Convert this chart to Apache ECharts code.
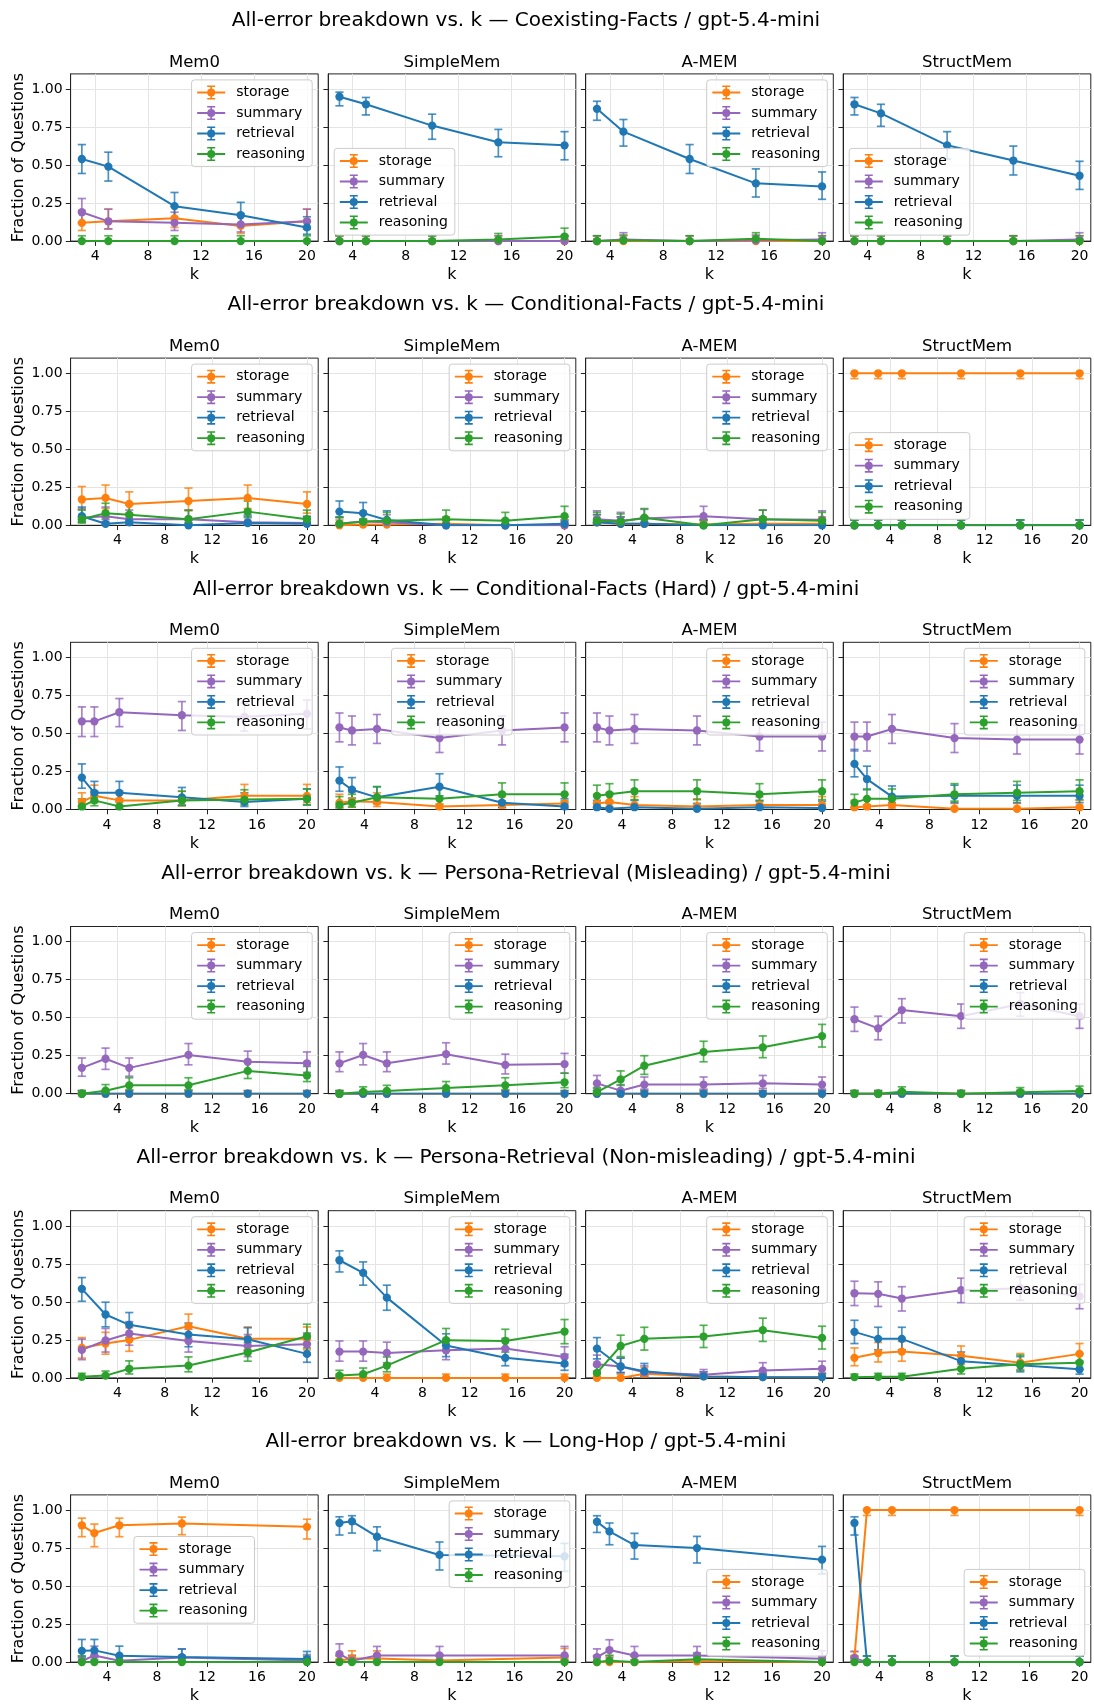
<!DOCTYPE html>
<html><head><meta charset="utf-8">
<script src="https://cdn.jsdelivr.net/npm/echarts@6/dist/echarts.min.js"></script>
<style>html,body{margin:0;padding:0;background:#fff}#chart{width:1094px;height:1704px}</style>
</head><body><div id="chart"></div>
<script>
// ---------- categories / labels ----------
const categories = ['storage', 'summary', 'retrieval', 'reasoning'];
const colors = ['#ff7f0e', '#9467bd', '#1f77b4', '#2ca02c'];
const methods = ['Mem0', 'SimpleMem', 'A-MEM', 'StructMem'];
const datasets = ['Coexisting-Facts', 'Conditional-Facts', 'Conditional-Facts (Hard)',
  'Persona-Retrieval (Misleading)', 'Persona-Retrieval (Non-misleading)', 'Long-Hop'];
const modelName = 'gpt-5.4-mini';
const xTicks = [4, 8, 12, 16, 20];
const yTicks = [0, 0.25, 0.5, 0.75, 1.0];

// ---------- k values per dataset ----------
const kCoex = [3, 5, 10, 15, 20];
const kCond = [1, 3, 5, 10, 15, 20];
const kCondHard = [2, 3, 5, 10, 15, 20];
const kPersMis = [1, 3, 5, 10, 15, 20];
const kPersNon = [1, 3, 5, 10, 15, 20];
const kLongHop = [2, 3, 5, 10, 20];

// ---------- values: [fraction, lower, upper] ----------
// Coexisting-Facts
const coexMem0 = {
  storage:   [[0.12,0.07,0.20],[0.13,0.08,0.21],[0.15,0.09,0.23],[0.10,0.05,0.17],[0.13,0.08,0.21]],
  summary:   [[0.19,0.12,0.28],[0.13,0.08,0.21],[0.12,0.07,0.19],[0.11,0.06,0.18],[0.13,0.08,0.21]],
  retrieval: [[0.54,0.445,0.635],[0.49,0.395,0.585],[0.23,0.15,0.32],[0.17,0.10,0.255],[0.09,0.045,0.16]],
  reasoning: [[0,0,0.035],[0,0,0.035],[0,0,0.035],[0,0,0.035],[0,0,0.035]]
};
const coexSimpleMem = {
  storage:   [[0,0,0.035],[0,0,0.035],[0,0,0.035],[0,0,0.035],[0,0,0.035]],
  summary:   [[0,0,0.035],[0,0,0.035],[0,0,0.035],[0,0,0.035],[0,0,0.035]],
  retrieval: [[0.95,0.89,0.98],[0.90,0.83,0.945],[0.76,0.67,0.835],[0.65,0.555,0.735],[0.63,0.535,0.72]],
  reasoning: [[0,0,0.035],[0,0,0.035],[0,0,0.035],[0.01,0.002,0.05],[0.03,0.01,0.085]]
};
const coexAMEM = {
  storage:   [[0,0,0.035],[0,0,0.035],[0,0,0.035],[0,0,0.035],[0,0,0.035]],
  summary:   [[0,0,0.035],[0.01,0.002,0.055],[0,0,0.035],[0.005,0,0.04],[0.01,0.002,0.055]],
  retrieval: [[0.87,0.795,0.92],[0.72,0.625,0.80],[0.54,0.445,0.635],[0.38,0.29,0.475],[0.36,0.275,0.455]],
  reasoning: [[0,0,0.035],[0.005,0,0.04],[0,0,0.035],[0.015,0.003,0.055],[0,0,0.035]]
};
const coexStructMem = {
  storage:   [[0,0,0.035],[0,0,0.035],[0,0,0.035],[0,0,0.035],[0,0,0.035]],
  summary:   [[0,0,0.035],[0,0,0.035],[0,0,0.035],[0,0,0.035],[0.01,0.002,0.055]],
  retrieval: [[0.90,0.83,0.945],[0.84,0.755,0.90],[0.63,0.54,0.72],[0.53,0.435,0.625],[0.43,0.34,0.525]],
  reasoning: [[0,0,0.035],[0,0,0.035],[0,0,0.035],[0,0,0.035],[0,0,0.035]]
};
// Conditional-Facts
const condMem0 = {
  storage:   [[0.17,0.105,0.255],[0.18,0.11,0.265],[0.14,0.08,0.22],[0.16,0.095,0.245],[0.18,0.11,0.265],[0.14,0.08,0.22]],
  summary:   [[0.05,0.02,0.11],[0.06,0.025,0.12],[0.04,0.015,0.10],[0.04,0.015,0.10],[0.02,0.005,0.07],[0.015,0.003,0.06]],
  retrieval: [[0.06,0.025,0.12],[0.01,0.002,0.055],[0.02,0.005,0.07],[0,0,0.035],[0.015,0.003,0.06],[0.01,0.002,0.055]],
  reasoning: [[0.04,0.015,0.10],[0.08,0.04,0.145],[0.07,0.035,0.135],[0.04,0.015,0.10],[0.09,0.05,0.16],[0.04,0.015,0.10]]
};
const condSimpleMem = {
  storage:   [[0,0,0.035],[0.005,0,0.04],[0.005,0,0.04],[0.01,0.002,0.055],[0,0,0.035],[0,0,0.035]],
  summary:   [[0.01,0.002,0.055],[0.025,0.008,0.075],[0.02,0.005,0.07],[0,0,0.035],[0,0,0.035],[0,0,0.035]],
  retrieval: [[0.09,0.05,0.16],[0.08,0.04,0.15],[0.035,0.012,0.095],[0,0,0.035],[0,0,0.035],[0.01,0.002,0.055]],
  reasoning: [[0.01,0.002,0.055],[0.025,0.008,0.075],[0.03,0.01,0.085],[0.04,0.015,0.10],[0.03,0.01,0.085],[0.06,0.025,0.125]]
};
const condAMEM = {
  storage:   [[0.02,0.005,0.07],[0.01,0.002,0.055],[0.01,0.002,0.055],[0.005,0,0.04],[0.01,0.002,0.055],[0.01,0.002,0.055]],
  summary:   [[0.04,0.015,0.095],[0.03,0.01,0.085],[0.045,0.018,0.105],[0.06,0.025,0.125],[0.04,0.015,0.10],[0.037,0.013,0.095]],
  retrieval: [[0.02,0.005,0.07],[0.01,0.002,0.055],[0.01,0.002,0.055],[0,0,0.035],[0,0,0.035],[0,0,0.035]],
  reasoning: [[0.03,0.01,0.085],[0.025,0.008,0.075],[0.05,0.02,0.11],[0,0,0.035],[0.04,0.015,0.10],[0.03,0.01,0.085]]
};
const condStructMem = {
  storage:   [[1,0.965,1],[1,0.965,1],[1,0.965,1],[1,0.965,1],[1,0.965,1],[1,0.965,1]],
  summary:   [[0,0,0.035],[0,0,0.035],[0,0,0.035],[0,0,0.035],[0,0,0.035],[0,0,0.035]],
  retrieval: [[0,0,0.035],[0,0,0.035],[0,0,0.035],[0,0,0.035],[0,0,0.035],[0,0,0.035]],
  reasoning: [[0,0,0.035],[0,0,0.035],[0,0,0.035],[0,0,0.035],[0,0,0.035],[0,0,0.035]]
};
// Conditional-Facts (Hard)
const hardMem0 = {
  storage:   [[0.05,0.02,0.11],[0.09,0.045,0.16],[0.06,0.025,0.12],[0.06,0.025,0.12],[0.09,0.045,0.165],[0.09,0.045,0.165]],
  summary:   [[0.58,0.48,0.675],[0.58,0.48,0.675],[0.64,0.545,0.73],[0.62,0.52,0.71],[0.61,0.515,0.70],[0.63,0.53,0.72]],
  retrieval: [[0.21,0.14,0.30],[0.11,0.05,0.185],[0.11,0.05,0.185],[0.08,0.03,0.145],[0.05,0.02,0.11],[0.07,0.03,0.135]],
  reasoning: [[0.02,0.005,0.07],[0.06,0.025,0.12],[0.02,0.005,0.07],[0.06,0.025,0.12],[0.065,0.03,0.13],[0.07,0.03,0.135]]
};
const hardSimpleMem = {
  storage:   [[0.045,0.015,0.10],[0.055,0.02,0.115],[0.05,0.02,0.11],[0.02,0.005,0.07],[0.03,0.01,0.085],[0.04,0.015,0.10]],
  summary:   [[0.54,0.445,0.635],[0.52,0.425,0.615],[0.53,0.435,0.625],[0.47,0.375,0.565],[0.52,0.425,0.615],[0.54,0.445,0.635]],
  retrieval: [[0.19,0.12,0.28],[0.13,0.075,0.21],[0.08,0.04,0.15],[0.15,0.09,0.235],[0.045,0.015,0.10],[0.02,0.005,0.07]],
  reasoning: [[0.03,0.01,0.085],[0.045,0.015,0.10],[0.08,0.04,0.15],[0.07,0.035,0.14],[0.10,0.055,0.175],[0.10,0.055,0.175]]
};
const hardAMEM = {
  storage:   [[0.04,0.015,0.10],[0.05,0.02,0.11],[0.03,0.01,0.085],[0.02,0.005,0.07],[0.03,0.01,0.085],[0.03,0.01,0.085]],
  summary:   [[0.54,0.445,0.635],[0.52,0.425,0.615],[0.53,0.435,0.625],[0.52,0.425,0.615],[0.48,0.385,0.575],[0.48,0.385,0.575]],
  retrieval: [[0.015,0.003,0.06],[0.005,0,0.04],[0.015,0.003,0.06],[0.005,0,0.04],[0.015,0.003,0.06],[0.01,0.002,0.055]],
  reasoning: [[0.09,0.045,0.16],[0.10,0.055,0.17],[0.12,0.065,0.195],[0.12,0.065,0.195],[0.10,0.055,0.17],[0.12,0.065,0.195]]
};
const hardStructMem = {
  storage:   [[0.015,0.003,0.06],[0.02,0.005,0.07],[0.03,0.01,0.085],[0.005,0,0.04],[0.005,0,0.04],[0.015,0.003,0.06]],
  summary:   [[0.48,0.385,0.575],[0.48,0.385,0.575],[0.53,0.435,0.625],[0.47,0.375,0.565],[0.46,0.365,0.555],[0.46,0.365,0.555]],
  retrieval: [[0.30,0.215,0.395],[0.20,0.13,0.285],[0.085,0.045,0.155],[0.09,0.045,0.16],[0.09,0.045,0.16],[0.09,0.045,0.16]],
  reasoning: [[0.045,0.015,0.10],[0.07,0.03,0.135],[0.07,0.03,0.135],[0.10,0.055,0.17],[0.11,0.06,0.185],[0.12,0.065,0.195]]
};
// Persona-Retrieval (Misleading)
const misMem0 = {
  storage:   [[0,0,0.02],[0,0,0.02],[0,0,0.02],[0,0,0.02],[0,0,0.02],[0,0,0.02]],
  summary:   [[0.17,0.115,0.235],[0.23,0.16,0.30],[0.17,0.115,0.235],[0.255,0.19,0.33],[0.21,0.15,0.28],[0.20,0.14,0.275]],
  retrieval: [[0,0,0.02],[0,0,0.02],[0,0,0.02],[0,0,0.02],[0,0,0.02],[0,0,0.02]],
  reasoning: [[0,0,0.02],[0.02,0.005,0.06],[0.055,0.025,0.105],[0.055,0.025,0.105],[0.15,0.10,0.21],[0.12,0.08,0.18]]
};
const misSimpleMem = {
  storage:   [[0,0,0.02],[0,0,0.02],[0,0,0.02],[0,0,0.02],[0,0,0.02],[0,0,0.02]],
  summary:   [[0.20,0.145,0.275],[0.255,0.19,0.33],[0.20,0.145,0.275],[0.26,0.195,0.335],[0.19,0.13,0.26],[0.195,0.135,0.265]],
  retrieval: [[0,0,0.02],[0,0,0.02],[0,0,0.02],[0,0,0.02],[0,0,0.02],[0,0,0.02]],
  reasoning: [[0,0,0.02],[0.012,0.003,0.045],[0.018,0.005,0.055],[0.037,0.015,0.08],[0.055,0.025,0.105],[0.075,0.04,0.135]]
};
const misAMEM = {
  storage:   [[0,0,0.02],[0,0,0.02],[0,0,0.02],[0,0,0.02],[0,0,0.02],[0,0,0.02]],
  summary:   [[0.068,0.035,0.12],[0.02,0.005,0.06],[0.06,0.03,0.11],[0.06,0.03,0.11],[0.068,0.035,0.12],[0.06,0.03,0.11]],
  retrieval: [[0,0,0.02],[0,0,0.02],[0,0,0.02],[0,0,0.02],[0,0,0.02],[0,0,0.02]],
  reasoning: [[0.01,0.002,0.04],[0.094,0.055,0.15],[0.184,0.127,0.25],[0.274,0.21,0.345],[0.305,0.237,0.38],[0.379,0.307,0.456]]
};
const misStructMem = {
  storage:   [[0,0,0.02],[0,0,0.02],[0,0,0.02],[0,0,0.02],[0,0,0.02],[0,0,0.02]],
  summary:   [[0.49,0.41,0.57],[0.43,0.355,0.51],[0.55,0.465,0.625],[0.51,0.43,0.59],[0.59,0.51,0.665],[0.51,0.43,0.59]],
  retrieval: [[0,0,0.02],[0,0,0.02],[0,0,0.02],[0,0,0.02],[0,0,0.02],[0,0,0.02]],
  reasoning: [[0,0,0.02],[0,0,0.02],[0.013,0.003,0.045],[0,0,0.02],[0.01,0.002,0.04],[0.017,0.004,0.05]]
};
// Persona-Retrieval (Non-misleading)
const nonMem0 = {
  storage:   [[0.197,0.13,0.265],[0.226,0.156,0.30],[0.25,0.175,0.33],[0.34,0.26,0.42],[0.257,0.185,0.335],[0.257,0.185,0.335]],
  summary:   [[0.184,0.12,0.255],[0.246,0.17,0.325],[0.292,0.215,0.37],[0.243,0.17,0.32],[0.21,0.14,0.285],[0.221,0.15,0.295]],
  retrieval: [[0.586,0.504,0.66],[0.417,0.336,0.498],[0.349,0.265,0.43],[0.285,0.205,0.36],[0.254,0.18,0.33],[0.158,0.103,0.226]],
  reasoning: [[0.007,0.001,0.03],[0.015,0.004,0.045],[0.06,0.026,0.112],[0.081,0.04,0.138],[0.167,0.11,0.232],[0.274,0.197,0.353]]
};
const nonSimpleMem = {
  storage:   [[0,0,0.025],[0,0,0.025],[0,0,0.025],[0,0,0.025],[0,0,0.025],[0,0,0.025]],
  summary:   [[0.173,0.11,0.243],[0.173,0.11,0.243],[0.164,0.10,0.235],[0.182,0.12,0.25],[0.193,0.13,0.26],[0.138,0.08,0.205]],
  retrieval: [[0.774,0.697,0.836],[0.691,0.61,0.763],[0.528,0.445,0.61],[0.213,0.14,0.29],[0.132,0.08,0.197],[0.094,0.05,0.155]],
  reasoning: [[0.015,0.003,0.05],[0.024,0.006,0.065],[0.081,0.04,0.138],[0.248,0.175,0.325],[0.243,0.17,0.32],[0.305,0.225,0.384]]
};
const nonAMEM = {
  storage:   [[0,0,0.025],[0,0,0.025],[0.028,0.008,0.07],[0.01,0.002,0.04],[0.005,0,0.03],[0.005,0,0.03]],
  summary:   [[0.09,0.045,0.15],[0.075,0.035,0.13],[0.037,0.013,0.08],[0.02,0.005,0.055],[0.048,0.02,0.10],[0.06,0.025,0.11]],
  retrieval: [[0.193,0.125,0.265],[0.075,0.035,0.13],[0.044,0.015,0.095],[0.01,0.002,0.04],[0.005,0,0.03],[0.005,0,0.03]],
  reasoning: [[0.033,0.01,0.08],[0.21,0.14,0.281],[0.257,0.183,0.333],[0.272,0.20,0.346],[0.314,0.24,0.393],[0.263,0.19,0.34]]
};
const nonStructMem = {
  storage:   [[0.132,0.08,0.197],[0.164,0.105,0.233],[0.173,0.11,0.24],[0.145,0.09,0.21],[0.10,0.055,0.16],[0.158,0.10,0.226]],
  summary:   [[0.557,0.476,0.636],[0.553,0.47,0.632],[0.522,0.44,0.60],[0.577,0.495,0.656],[0.59,0.51,0.665],[0.537,0.455,0.615]],
  retrieval: [[0.303,0.226,0.379],[0.257,0.185,0.333],[0.257,0.185,0.333],[0.11,0.06,0.17],[0.083,0.04,0.14],[0.057,0.025,0.11]],
  reasoning: [[0.005,0,0.025],[0.007,0.001,0.03],[0.007,0.001,0.03],[0.06,0.026,0.11],[0.09,0.05,0.15],[0.10,0.055,0.16]]
};
// Long-Hop
const hopMem0 = {
  storage:   [[0.90,0.825,0.947],[0.849,0.759,0.908],[0.90,0.825,0.947],[0.912,0.838,0.954],[0.89,0.81,0.94]],
  summary:   [[0.007,0,0.04],[0.044,0.015,0.105],[0.009,0,0.045],[0.03,0.008,0.085],[0.01,0.002,0.05]],
  retrieval: [[0.074,0.03,0.149],[0.077,0.03,0.149],[0.042,0.012,0.105],[0.033,0.01,0.087],[0.02,0.004,0.07]],
  reasoning: [[0,0,0.04],[0,0,0.04],[0,0,0.04],[0,0,0.04],[0,0,0.04]]
};
const hopSimpleMem = {
  storage:   [[0.009,0,0.045],[0.024,0.005,0.074],[0.024,0.005,0.074],[0.011,0.002,0.05],[0.031,0.008,0.09]],
  summary:   [[0.053,0.018,0.12],[0.009,0,0.045],[0.044,0.015,0.103],[0.044,0.015,0.103],[0.044,0.015,0.103]],
  retrieval: [[0.915,0.836,0.956],[0.926,0.849,0.963],[0.825,0.733,0.89],[0.705,0.606,0.79],[0.696,0.597,0.781]],
  reasoning: [[0,0,0.04],[0,0,0.04],[0,0,0.04],[0,0,0.04],[0,0,0.04]]
};
const hopAMEM = {
  storage:   [[0,0,0.04],[0,0,0.04],[0,0,0.04],[0.005,0,0.04],[0,0,0.04]],
  summary:   [[0.033,0.01,0.087],[0.079,0.03,0.147],[0.044,0.015,0.103],[0.044,0.015,0.103],[0.022,0.005,0.075]],
  retrieval: [[0.923,0.853,0.963],[0.86,0.772,0.915],[0.77,0.678,0.847],[0.75,0.652,0.827],[0.674,0.58,0.761]],
  reasoning: [[0,0,0.04],[0.009,0,0.045],[0,0,0.04],[0.018,0.003,0.06],[0,0,0.04]]
};
const hopStructMem = {
  storage:   [[0.03,0.008,0.07],[1,0.965,1],[1,0.965,1],[1,0.965,1],[1,0.965,1]],
  summary:   [[0.026,0.006,0.07],[0,0,0.04],[0,0,0.04],[0,0,0.04],[0,0,0.04]],
  retrieval: [[0.915,0.836,0.956],[0,0,0.04],[0,0,0.04],[0,0,0.04],[0,0,0.04]],
  reasoning: [[0,0,0.04],[0,0,0.04],[0,0,0.04],[0,0,0.04],[0,0,0.04]]
};

const rowK = [kCoex, kCond, kCondHard, kPersMis, kPersNon, kLongHop];
const rowPanels = [
  [coexMem0, coexSimpleMem, coexAMEM, coexStructMem],
  [condMem0, condSimpleMem, condAMEM, condStructMem],
  [hardMem0, hardSimpleMem, hardAMEM, hardStructMem],
  [misMem0, misSimpleMem, misAMEM, misStructMem],
  [nonMem0, nonSimpleMem, nonAMEM, nonStructMem],
  [hopMem0, hopSimpleMem, hopAMEM, hopStructMem]
];

// ---------- layout (not data) ----------
const legendPlace = [
  ['ur', 'll', 'ur', 'll'],
  ['ur', 'ur', 'ur', 'll'],
  ['ur', 'uc', 'ur', 'ur'],
  ['ur', 'ur', 'ur', 'ur'],
  ['ur', 'ur', 'ur', 'ur'],
  ['c', 'ur', 'lr', 'lr']
];
const W = 1094, H = 1704;
const FONT = '"DejaVu Sans", Verdana, sans-serif';
const AX_LEFT = [70.6, 328.2, 585.7, 843.2];
const AX_W = 247.6, AX_TOP0 = 73.9, AX_H = 167.2, ROW_STEP = 284.2;
const LEG_W = 121, LEG_H = 84, LEG_PAD = 6;
const ICON = 'path://M0,6.1L28,6.1L28,7.9L0,7.9Z M13.2,0L14.8,0L14.8,14L13.2,14Z M10,0L18,0L18,1.6L10,1.6Z M10,12.4L18,12.4L18,14L10,14Z M10,7A4,4,0,1,1,18,7A4,4,0,1,1,10,7Z';

function errRenderer(color) {
  return function (params, api) {
    const x = api.value(0), lo = api.value(1), hi = api.value(2);
    const a = api.coord([x, lo]), b = api.coord([x, hi]);
    const cap = 4.1;
    const st = { stroke: color, lineWidth: 1.7, opacity: 0.8 };
    return {
      type: 'group',
      children: [
        { type: 'line', shape: { x1: a[0], y1: a[1], x2: b[0], y2: b[1] }, style: st },
        { type: 'line', shape: { x1: a[0] - cap, y1: a[1], x2: a[0] + cap, y2: a[1] }, style: st },
        { type: 'line', shape: { x1: b[0] - cap, y1: b[1], x2: b[0] + cap, y2: b[1] }, style: st }
      ]
    };
  };
}

const grids = [], xAxes = [], yAxes = [], series = [], legends = [], graphics = [];

rowPanels.forEach((row, r) => {
  const K = rowK[r];
  const kmin = Math.min(...K), kmax = Math.max(...K);
  const margin = (kmax - kmin) * 0.05;
  const top = AX_TOP0 + r * ROW_STEP;
  graphics.push({
    type: 'text', x: 526, y: 21 + r * ROW_STEP, silent: true,
    style: { text: 'All-error breakdown vs. k — ' + datasets[r] + ' / ' + modelName,
      font: '20px ' + FONT, fill: '#000', textAlign: 'center', textVerticalAlign: 'middle',
      align: 'center', verticalAlign: 'middle' }
  });
  row.forEach((panel, c) => {
    const gi = grids.length;
    const left = AX_LEFT[c];
    grids.push({ left: left, top: top, width: AX_W, height: AX_H, show: true,
      borderColor: '#222', borderWidth: 1, backgroundColor: 'transparent', containLabel: false, outerBoundsMode: 'none' });
    graphics.push({
      type: 'text', x: left + AX_W / 2, y: top - 11.5, silent: true,
      style: { text: methods[c], font: '16.5px ' + FONT, fill: '#000', textAlign: 'center',
        textVerticalAlign: 'middle', align: 'center', verticalAlign: 'middle' }
    });
    xAxes.push({
      type: 'value', gridIndex: gi, min: kmin - margin, max: kmax + margin,
      name: 'k', nameLocation: 'middle', nameGap: 26,
      nameTextStyle: { fontFamily: FONT, fontSize: 16, color: '#000' },
      axisLine: { show: true, onZero: false, lineStyle: { color: '#222', width: 1 } },
      axisTick: { show: true, customValues: xTicks, length: 4.8, lineStyle: { color: '#222', width: 1 } },
      axisLabel: { show: true, customValues: xTicks, margin: 8.5, fontFamily: FONT, fontSize: 14, color: '#000' },
      splitLine: { show: true, customValues: xTicks, lineStyle: { color: '#e4e4e4', width: 1 } }
    });
    yAxes.push({
      type: 'value', gridIndex: gi, min: 0, max: 1.1,
      name: c === 0 ? 'Fraction of Questions' : '', nameLocation: 'middle', nameGap: 44,
      nameTextStyle: { fontFamily: FONT, fontSize: 16, color: '#000' },
      axisLine: { show: true, onZero: false, lineStyle: { color: '#222', width: 1 } },
      axisTick: { show: true, customValues: yTicks, length: 4.8, lineStyle: { color: '#222', width: 1 } },
      axisLabel: { show: c === 0, customValues: yTicks, margin: 8, fontFamily: FONT, fontSize: 14, color: '#000',
        formatter: v => Number(v).toFixed(2) },
      splitLine: { show: true, customValues: yTicks, lineStyle: { color: '#e4e4e4', width: 1 } }
    });
    categories.forEach((cat, s) => {
      const vals = panel[cat];
      series.push({
        type: 'custom', name: cat + '-err-' + gi, xAxisIndex: gi, yAxisIndex: gi,
        renderItem: errRenderer(colors[s]), silent: true,
        encode: { x: 0, y: [1, 2] },
        data: K.map((k, i) => [k, vals[i][1], vals[i][2]])
      });
      series.push({
        type: 'line', name: cat, xAxisIndex: gi, yAxisIndex: gi, silent: true,
        color: colors[s], symbol: 'circle', symbolSize: 8.3, showAllSymbol: true,
        lineStyle: { color: colors[s], width: 2 }, itemStyle: { color: colors[s] },
        data: K.map((k, i) => [k, vals[i][0]])
      });
    });
    // legend placement
    const place = legendPlace[r][c];
    const lg = {
      orient: 'vertical', data: categories, selectedMode: false, icon: ICON,
      itemWidth: 28, itemHeight: 14, itemGap: 6.5, padding: [5.6, 7, 5.6, 5.6],
      backgroundColor: 'rgba(255,255,255,0.8)', borderColor: '#cccccc', borderWidth: 1, borderRadius: 3,
      textStyle: { fontFamily: FONT, fontSize: 14, color: '#000', padding: [0, 0, 0, 6] }
    };
    const axRight = left + AX_W, axBottom = top + AX_H;
    if (place === 'ur') { lg.right = W - axRight + LEG_PAD; lg.top = top + LEG_PAD; }
    else if (place === 'll') { lg.left = left + LEG_PAD; lg.bottom = H - axBottom + LEG_PAD; }
    else if (place === 'lr') { lg.right = W - axRight + LEG_PAD; lg.bottom = H - axBottom + LEG_PAD; }
    else if (place === 'uc') { lg.left = left + AX_W / 2 - LEG_W / 2; lg.top = top + LEG_PAD; }
    else if (place === 'c') { lg.left = left + AX_W / 2 - LEG_W / 2; lg.top = top + AX_H / 2 - LEG_H / 2; }
    legends.push(lg);
  });
});

const chart = echarts.init(document.getElementById('chart'), null, { renderer: 'canvas', width: W, height: H });
chart.setOption({
  animation: false,
  backgroundColor: '#ffffff',
  grid: grids, xAxis: xAxes, yAxis: yAxes, series: series, legend: legends, graphic: graphics
});
</script>
</body></html>
